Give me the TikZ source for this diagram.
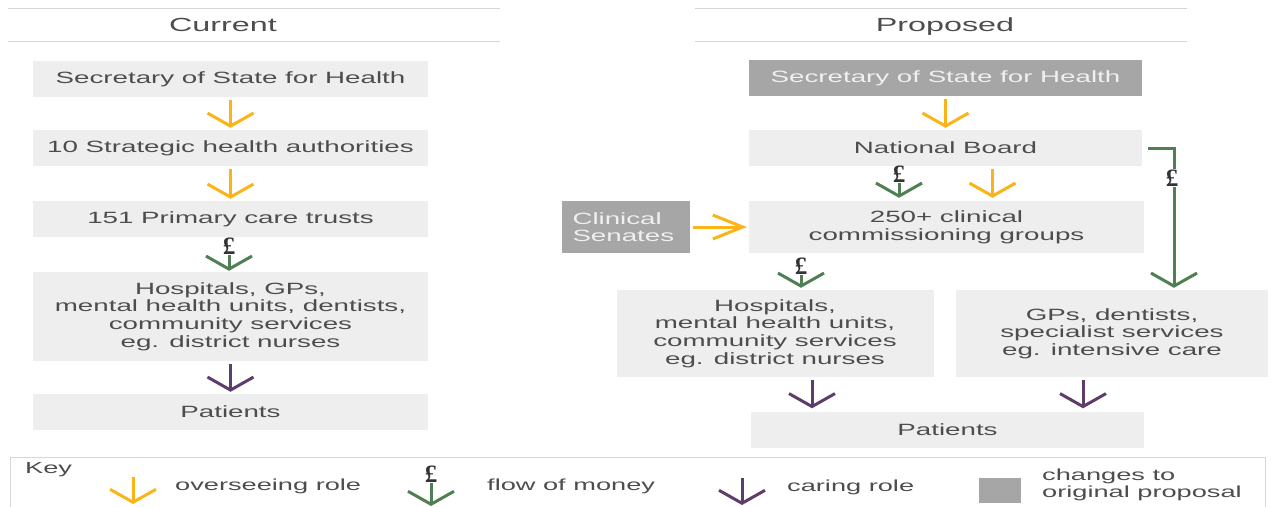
\documentclass[tikz,border=0pt]{standalone}
\usepackage{fontspec}
\setmainfont{Liberation Sans}[FakeStretch=1.7]
\newfontfamily\poundfont{Liberation Serif}
\usetikzlibrary{arrows.meta}
\definecolor{boxgray}{HTML}{EEEEEE}
\definecolor{newgray}{HTML}{A6A6A6}
\definecolor{textgray}{HTML}{4D4D4D}
\definecolor{rulegray}{HTML}{D6D6D6}
\definecolor{overyellow}{HTML}{FBB417}
\definecolor{moneygreen}{HTML}{4F7F52}
\definecolor{carepurple}{HTML}{5E3D6C}

\begin{document}
\begin{tikzpicture}[x=1pt, y=-1pt,
        every node/.style={font=\fontsize{16.3}{17.6}\selectfont, text=textgray},
        box/.style={fill=boxgray, inner sep=0pt, align=center, minimum width=395pt, minimum height=36pt},
        newbox/.style={box, fill=newgray, text=white!94!black},
        title/.style={anchor=base, font=\fontsize{19}{22}\selectfont},
        pound/.style={font=\poundfont\bfseries\fontsize{25}{25}\selectfont, text=black!80, inner sep=0.5pt},
        keytext/.style={anchor=west, inner sep=0pt, align=left, font=\fontsize{16}{17.6}\selectfont},
        flow/.style={line width=3pt, line join=miter, -{Straight Barb[length=13pt, width=46pt]}},
        over/.style={flow, overyellow},
        money/.style={flow, moneygreen},
        care/.style={flow, carepurple}]
        \useasboundingbox (0,0) rectangle (1273,506);

        % current
        \draw[rulegray, line width=1pt] (8,8) -- (500,8) (8,41) -- (500,41);
        \node[title] (curtitle) at (223,31.5) {Current};
        \node[box] (cur1) at (230.5,79) {Secretary of State for Health};
        \node[box] (cur2) at (230.5,148) {10 Strategic health authorities};
        \node[box] (cur3) at (230.5,219) {151 Primary care trusts};
        \node[box, minimum height=89pt] (cur4) at (230.5,316.5) {Hospitals, GPs,\\mental health units, dentists,\\community services\\eg. district nurses};
        \node[box] (cur5) at (230.5,412) {Patients};
        \node[pound] (curpnd) at (229,246) {\pounds};
        \draw[over] ([yshift=-3pt]cur1.south) -- ([yshift=2pt]cur2.north);
        \draw[over] ([yshift=-3pt]cur2.south) -- ([yshift=2pt]cur3.north);
        \draw[money] (curpnd.south) -- ([yshift=1pt]curpnd |- cur4.north);
        \draw[care] ([yshift=-3pt]cur4.south) -- ([yshift=2pt]cur5.north);

        % proposed
        \draw[rulegray, line width=1pt] (695,8) -- (1187,8) (695,41) -- (1187,41);
        \node[title] (protitle) at (945,31.5) {Proposed};
        \node[newbox, minimum width=393pt] (pro1) at (945.5,78) {Secretary of State for Health};
        \node[box, minimum width=393pt] (pro2) at (945.5,148) {National Board};
        \node[box, minimum height=52pt] (pro3) at (946.5,227) {250+ clinical\\commissioning groups};
        \node[newbox, minimum width=128pt, minimum height=52pt, align=left, text width=106pt] (sen) at (625.5,227) {Clinical\\Senates};
        \node[box, minimum width=317pt, minimum height=87pt] (pro4) at (775,333.5) {Hospitals,\\mental health units,\\community services\\eg. district nurses};
        \node[box, minimum width=312pt, minimum height=87pt] (pro5) at (1112,333.5) {GPs, dentists,\\specialist services\\eg. intensive care};
        \node[box, minimum width=393pt] (pro6) at (947.5,429.5) {Patients};
        \draw[over] ([yshift=-3pt]pro1.south) -- ([yshift=2pt]pro2.north);
        \node[pound] (propnd1) at (899,174) {\pounds};
        \draw[money] (propnd1.south) -- ([yshift=3pt]propnd1 |- pro3.north);
        \draw[over] ([xshift=47pt,yshift=-3pt]pro2.south) -- ([xshift=46pt,yshift=3pt]pro3.north);
        \draw[over, -{Straight Barb[length=30pt, width=24pt]}] ([xshift=3pt]sen.east) -- ([xshift=-2pt]pro3.west);
        \node[pound] (propnd2) at (801,266) {\pounds};
        \draw[money] (propnd2.south) -- ([yshift=2pt]propnd2 |- pro4.north);
        \draw[money] ([xshift=6pt]pro2.east) -| ([xshift=62pt,yshift=2pt]pro5.north);
        \node[pound, fill=white] (propnd3) at (1172,178) {\pounds};
        \draw[care] ([xshift=37pt,yshift=-3pt]pro4.south) -- ([xshift=-135.5pt,yshift=3pt]pro6.north);
        \draw[care] ([xshift=-29pt,yshift=-3pt]pro5.south) -- ([xshift=135.5pt,yshift=3pt]pro6.north);

        % key
        \draw[rulegray, line width=1pt] (10,510) -- (10,457) -- (1265,457) -- (1265,510);
        \node[keytext] (keyname) at (25,470) {Key};
        \coordinate (k1a) at (133,477);
        \coordinate (k1b) at (133,504);
        \draw[over] (k1a) -- (k1b);
        \node[keytext] (k1txt) at (175,486) {overseeing role};
        \node[pound] (keypnd) at (431,474) {\pounds};
        \coordinate (k2b) at (431,506);
        \draw[money] (keypnd.south) -- (k2b);
        \node[keytext] (k2txt) at (487,486) {flow of money};
        \coordinate (k3a) at (742,478);
        \coordinate (k3b) at (742,505);
        \draw[care] (k3a) -- (k3b);
        \node[keytext] (k3txt) at (787,487) {caring role};
        \node[fill=newgray, minimum width=42pt, minimum height=25pt, inner sep=0pt] (k4sq) at (1000,490) {};
        \node[keytext] (k4txt) at (1042,485) {changes to\\original proposal};
\end{tikzpicture}
\end{document}
